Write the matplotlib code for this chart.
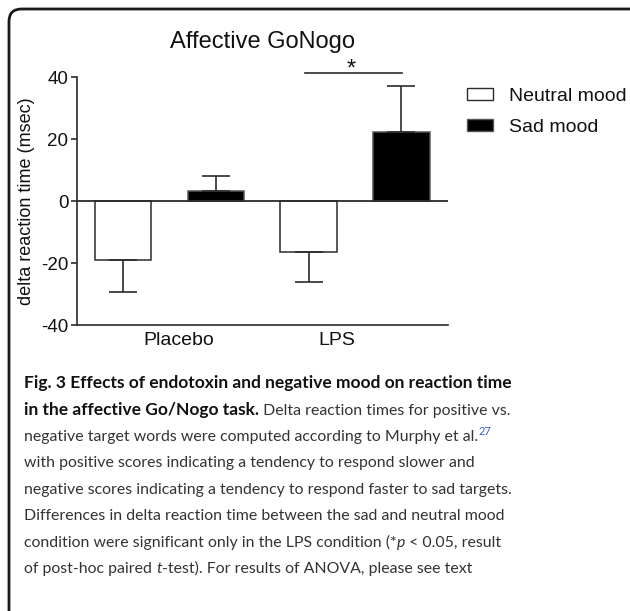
import numpy as np
import matplotlib
matplotlib.use('Agg')
import matplotlib.pyplot as plt
from matplotlib.patches import Patch, FancyBboxPatch

plt.rcParams['font.family'] = 'Liberation Sans'
plt.rcParams['axes.unicode_minus'] = False

# ── data ──────────────────────────────────────────────────────────────────
groups       = ['Placebo', 'LPS']
series       = ['Neutral mood', 'Sad mood']
neutral_mean = [-19.0, -16.3]
neutral_err  = [10.5, 9.7]
sad_mean     = [3.2, 22.3]
sad_err      = [4.9, 15.0]
y_ticks      = [-40, -20, 0, 20, 40]

# caption pieces: (text, style) with b=bold, r=regular, i=italic, s=superscript
caption = [
	[('Fig. 3 Effects of endotoxin and negative mood on reaction time', 'b')],
	[('in the affective Go/Nogo task.', 'b'), (' Delta reaction times for positive vs.', 'r')],
	[('negative target words were computed according to Murphy et al.', 'r'), ('27', 's')],
	[('with positive scores indicating a tendency to respond slower and', 'r')],
	[('negative scores indicating a tendency to respond faster to sad targets.', 'r')],
	[('Differences in delta reaction time between the sad and neutral mood', 'r')],
	[('condition were significant only in the LPS condition (*', 'r'), ('p', 'i'),
	 (' < 0.05, result', 'r')],
	[('of post-hoc paired ', 'r'), ('t', 'i'),
	 ('-test). For results of ANOVA, please see text', 'r')],
]

INK = '#2b2b2b'
W, H = 630, 611

fig = plt.figure(figsize=(W / 100, H / 100), dpi=100, facecolor='white')
ax = fig.add_axes([76.7 / W, 1 - 325 / H, (447.6 - 76.7) / W, (325 - 77.3) / H])

# ── bars ──────────────────────────────────────────────────────────────────
x = np.arange(len(groups))
off, bw = 0.25, 0.305
ax.bar(x - off, neutral_mean, width=bw, color='white', edgecolor=INK, lw=1.1, zorder=2)
ax.bar(x + off, sad_mean, width=bw, color='black', edgecolor='#555555', lw=1.1, zorder=2)

err_kw = dict(fmt='none', ecolor=INK, elinewidth=1.2, capsize=10.2, capthick=1.2, zorder=3)
ax.errorbar(x - off, neutral_mean, yerr=[neutral_err, np.zeros(2)], **err_kw)
ax.errorbar(x + off, sad_mean, yerr=[np.zeros(2), sad_err], **err_kw)

ax.axhline(0, color=INK, lw=1.3, zorder=4)

# significance bracket over LPS
ax.plot([0.73, 1.255], [41.5, 41.5], color=INK, lw=1.2, clip_on=False)
ax.text(0.98, 40.6, '*', ha='center', va='baseline', fontsize=17, color='#111111')

# ── axes styling ──────────────────────────────────────────────────────────
ax.set_xlim(-0.5, 1.5)
ax.set_ylim(-40, 40)
ax.set_yticks(y_ticks)
ax.set_xticks([0.05, 0.9])
ax.set_xticklabels(groups)
ax.tick_params(axis='x', length=0, pad=5, labelsize=14, colors='#111111')
ax.tick_params(axis='y', length=4.3, width=1.2, pad=1.7, labelsize=13.5,
               colors=INK, labelcolor='#111111')
for side in ['top', 'right']:
	ax.spines[side].set_visible(False)
for side in ['left', 'bottom']:
	ax.spines[side].set_linewidth(1.2)
	ax.spines[side].set_color(INK)

ax.set_ylabel('delta reaction time (msec)', fontsize=13, labelpad=4, color='#111111')
ax.set_title('Affective GoNogo', fontsize=17, pad=21, color='#111111')

fig.legend(
	[Patch(facecolor='white', edgecolor=INK, lw=1.0),
	 Patch(facecolor='black', edgecolor='#555555', lw=1.0)],
	series, loc='upper left', bbox_to_anchor=(467.3 / W, 1 - 88 / H),
	frameon=False, fontsize=14, handlelength=1.34, handleheight=0.53,
	handletextpad=0.82, labelspacing=0.72, borderpad=0, borderaxespad=0,
	labelcolor='#111111',
)

# ── frame round the figure ────────────────────────────────────────────────
frame = FancyBboxPatch(
	(9 / W, -0.1), 1.2, 1 - 9 / H + 0.1,
	boxstyle='round,pad=0,rounding_size=0.02', mutation_aspect=W / H,
	transform=fig.transFigure, fill=False, lw=2.0, ec='#1a1a1a', clip_on=False,
)
fig.add_artist(frame)

# ── caption ───────────────────────────────────────────────────────────────
FS_BOLD, FS_REG = 12.5, 11.4
base0, step = 388.3, 26.4
for i, pieces in enumerate(caption):
	y = H - (base0 + i * step)
	prev = None
	for txt, sty in pieces:
		kw = dict(family='Lato', fontsize=FS_REG, color='#333333', annotation_clip=False)
		if sty == 'b':
			kw.update(weight='bold', color='#111111', fontsize=FS_BOLD)
		elif sty == 'i':
			kw.update(style='italic')
		if prev is None:
			prev = ax.annotate(txt, xy=(24, y), xycoords='figure pixels',
			                   ha='left', va='baseline', **kw)
		elif sty == 's':
			kw.update(fontsize=8, color='#3b5bdb')
			prev = ax.annotate(txt, xy=(1, 1), xycoords=prev, xytext=(0.5, 3),
			                   textcoords='offset points', ha='left', va='top', **kw)
		else:
			prev = ax.annotate(txt, xy=(1, 0), xycoords=prev,
			                   ha='left', va='bottom', **kw)

fig.savefig('out.png', dpi=100, facecolor='white')
